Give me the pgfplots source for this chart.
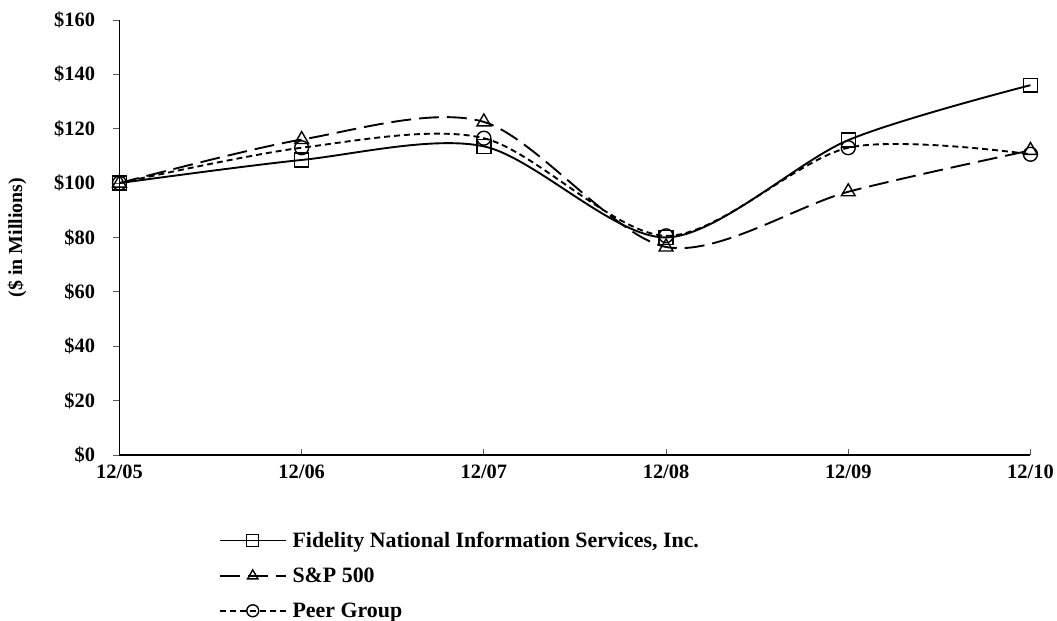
\documentclass[border=0pt]{standalone}
\usepackage{pgfplots}
\pgfplotsset{compat=1.18}
\usepackage{fontspec}
\setmainfont{Liberation Serif}
\begin{document}
\begin{tikzpicture}
\begin{axis}[
  scale only axis,
  width=915bp, height=437bp,
  xmin=0, xmax=5, ymin=0, ymax=160,
  axis x line*=bottom, axis y line*=left,
  axis line style={line width=1.3bp, black},
  xtick={0,1,2,3,4,5},
  xticklabels={12/05,12/06,12/07,12/08,12/09,12/10},
  ytick={0,20,40,60,80,100,120,140,160},
  yticklabels={\$0,\$20,\$40,\$60,\$80,\$100,\$120,\$140,\$160},
  tick align=inside,
  major tick length=6bp,
  tick style={gray!70!black, line width=0.8bp},
  ytick style={xshift=-6bp},
  ticklabel style={font=\fontsize{20.5bp}{24bp}\selectfont\bfseries},
  xticklabel style={yshift=-6bp},
  yticklabel style={xshift=-21bp},
  ylabel={(\$ in Millions)},
  ylabel style={font=\fontsize{20bp}{24bp}\selectfont\bfseries,
    at={(axis description cs:-0.0984,0.5)}, anchor=south},
  legend style={draw=none, at={(0.109,-0.172)}, anchor=north west,
    font=\fontsize{22bp}{26bp}\selectfont\bfseries, row sep=15bp, inner sep=0pt,
    nodes={inner xsep=6bp}},
  legend cell align=left,
  legend image code/.code={\draw[mark repeat=2,mark phase=2, mark size=6bp] plot coordinates {(0bp,0bp) (33bp,0bp) (66bp,0bp)};},
  every axis plot/.append style={black, line width=1.9bp, smooth, tension=0.5},
  clip=false,
]
\addplot[mark=square, mark size=7bp, mark options={solid, line width=1.4bp}]
  coordinates {(0,100) (1,108.5) (2,113.5) (3,80) (4,115.8) (5,136)};
\addlegendentry{Fidelity National Information Services, Inc.}
\addplot[dash pattern=on 20bp off 8bp, mark=triangle, mark size=8bp, mark options={solid, line width=1.4bp}]
  coordinates {(0,100) (1,116) (2,122.5) (3,76.5) (4,96.8) (5,112)};
\addlegendentry{S\&P 500}
\addplot[dash pattern=on 6bp off 4bp, mark=o, mark size=7bp, mark options={solid, line width=1.4bp}]
  coordinates {(0,100) (1,113) (2,116.5) (3,80.6) (4,113) (5,110.6)};
\addlegendentry{Peer Group}
\end{axis}
\path (current axis.north) ++(0,20bp);
\path (current axis.south west) ++(-120bp,0);
\end{tikzpicture}
\end{document}
